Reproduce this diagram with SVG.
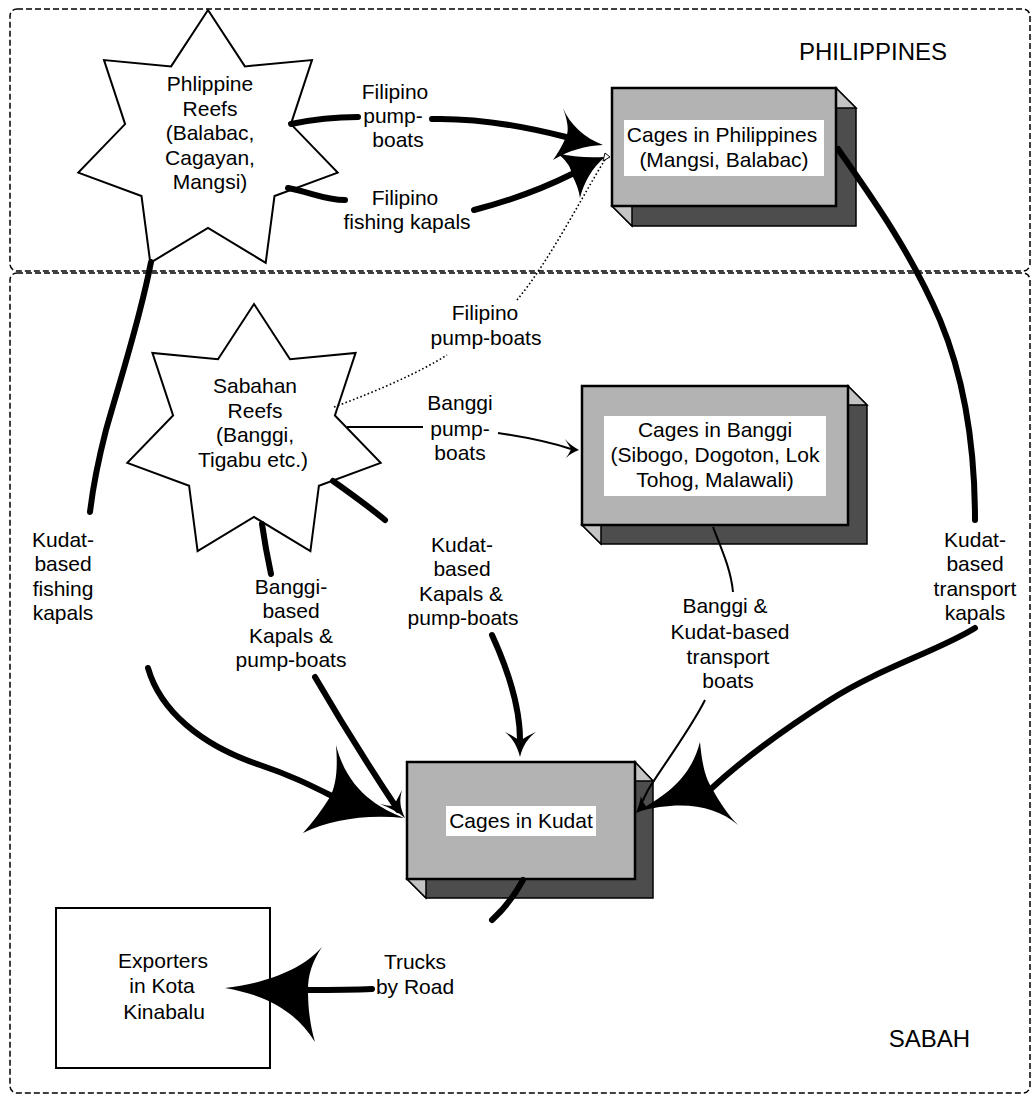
<svg xmlns="http://www.w3.org/2000/svg" width="1032" height="1096" viewBox="0 0 1032 1096">
<style>
.lbl{font-family:"Liberation Sans",Arial,sans-serif;font-size:21px;text-anchor:middle;fill:#000}
.big{font-family:"Liberation Sans",Arial,sans-serif;font-size:24px;fill:#000}
.region{fill:none;stroke:#000;stroke-width:1.5;stroke-dasharray:6 3}
.star{fill:#fff;stroke:#000;stroke-width:2}
.front{fill:#b3b3b3;stroke:#000;stroke-width:2.5}
.side{fill:#4d4d4d;stroke:#000;stroke-width:1.5}
.bevel{fill:#c4c4c4;stroke:#000;stroke-width:1.5}
.tbox{fill:#fff}
.thick{fill:none;stroke:#000;stroke-width:6;stroke-linecap:round}
.thin{fill:none;stroke:#000;stroke-width:2}
.dot{fill:none;stroke:#000;stroke-width:1.6;stroke-dasharray:1.6 2.4}
.head{fill:#000}
.plain{fill:#fff;stroke:#000;stroke-width:2}
</style>
<g id="regions">
<rect x="10" y="9" width="1020" height="262" rx="7" class="region"/>
<rect x="10" y="273" width="1020" height="820" rx="7" class="region"/>
<text class="big" x="947" y="60" text-anchor="end">PHILIPPINES</text>
<text class="big" x="970" y="1047" text-anchor="end">SABAH</text>
</g>
<g id="phil-reefs">
<polygon class="star" points="208,10 244.9,66.4 312,60.1 290.9,124.1 337.7,172.6 274.5,196 265.7,262.8 208,228 150.3,262.8 141.5,196 78.3,172.6 125.1,124.1 104,60.1 171.1,66.4"/>
<text class="lbl" x="210" y="91">Phlippine</text>
<text class="lbl" x="210" y="115.5">Reefs</text>
<text class="lbl" x="210" y="140">(Balabac,</text>
<text class="lbl" x="210" y="164.5">Cagayan,</text>
<text class="lbl" x="210" y="189">Mangsi)</text>
</g>
<g id="sabah-reefs">
<polygon class="star" points="254,304 290,359.2 355.6,352.9 334.9,415.5 380.7,462.9 318.9,485.8 310.4,551.1 254,517 197.6,551.1 189.1,485.8 127.3,462.9 173.1,415.5 152.4,352.9 218,359.2"/>
<text class="lbl" x="255" y="393">Sabahan</text>
<text class="lbl" x="255" y="417.5">Reefs</text>
<text class="lbl" x="255" y="442">(Banggi,</text>
<text class="lbl" x="253" y="466.5">Tigabu etc.)</text>
</g>
<g id="cages-phil">
<polygon class="side" points="836,88 856,108 856,226 632,226 612,206"/>
<polygon class="bevel" points="836,88 856,108 836,108"/>
<polygon class="bevel" points="612,206 632,226 632,206"/>
<rect class="front" x="612" y="88" width="224" height="118"/>
<rect class="tbox" x="624" y="120" width="200" height="56"/>
<text class="lbl" x="722" y="142">Cages in Philippines</text>
<text class="lbl" x="724" y="167">(Mangsi, Balabac)</text>
</g>
<g id="cages-banggi">
<polygon class="side" points="848,386 867,405 867,544 601,544 582,525"/>
<polygon class="bevel" points="848,386 867,405 848,405"/>
<polygon class="bevel" points="582,525 601,544 601,525"/>
<rect class="front" x="582" y="386" width="266" height="139"/>
<rect class="tbox" x="604" y="416" width="222" height="80"/>
<text class="lbl" x="715" y="437">Cages in Banggi</text>
<text class="lbl" x="715" y="462">(Sibogo, Dogoton, Lok</text>
<text class="lbl" x="715" y="487">Tohog, Malawali)</text>
</g>
<g id="cages-kudat">
<polygon class="side" points="635,762 653,781 653,898 426,898 407,879"/>
<polygon class="bevel" points="635,762 653,781 635,781"/>
<polygon class="bevel" points="407,879 426,898 426,879"/>
<rect class="front" x="407" y="762" width="228" height="117"/>
<rect class="tbox" x="446" y="806" width="150" height="30"/>
<text class="lbl" x="521" y="828">Cages in Kudat</text>
</g>
<g id="exporters">
<rect class="plain" x="56" y="908" width="214" height="160"/>
<text class="lbl" x="163" y="968">Exporters</text>
<text class="lbl" x="162" y="993">in Kota</text>
<text class="lbl" x="164" y="1019">Kinabalu</text>
</g>
<g id="connectors">
<!-- Filipino pump-boats -->
<path class="thick" d="M291,124 C310,120 335,117 358,117"/>
<path class="thick" d="M432,119 C470,118 515,124 566,137"/>
<path class="head" d="M603,145 C585,138 570,125 563,108 C568,122 569,131 566,137 C562,146 558,153 553,160 C570,150 585,146 603,145 Z"/>
<text class="lbl" x="395" y="99">Filipino</text>
<text class="lbl" x="393" y="123">pump-</text>
<text class="lbl" x="398" y="147">boats</text>
<!-- Filipino fishing kapals -->
<path class="thick" d="M288,188 C310,192 325,200 345,200"/>
<path class="thick" d="M474,210 C505,202 540,190 572,174"/>
<path class="head" d="M605,157 C588,158 572,157 557,153 C566,160 571,167 572,175 C576,183 579,190 580,198 C584,182 592,168 605,157 Z"/>
<text class="lbl" x="405" y="205">Filipino</text>
<text class="lbl" x="407" y="229">fishing kapals</text>
<!-- Filipino pump-boats (dotted) -->
<path class="dot" d="M334,407 C380,390 420,372 447,355"/>
<path class="dot" d="M517,300 C550,260 580,200 606,158"/>
<path d="M610,157 L603,161 L605,153 Z" fill="#fff" stroke="#000" stroke-width="1"/>
<text class="lbl" x="485" y="320">Filipino</text>
<text class="lbl" x="486" y="345">pump-boats</text>
<!-- Banggi pump-boats -->
<path class="thin" d="M347,427 L423,427"/>
<path class="thin" d="M498,433 C525,437 550,442 571,449"/>
<path class="head" d="M579,450 C574,447 569,444 565,439 C568,444 570,447 571,449 C570,452 568,455 566,458 C570,454 574,452 579,450 Z"/>
<text class="lbl" x="460" y="410">Banggi</text>
<text class="lbl" x="460" y="436">pump-</text>
<text class="lbl" x="460" y="460">boats</text>
<!-- Kudat-based fishing kapals -->
<path class="thick" d="M151,262 C140,320 120,380 106,430 C97,465 92,495 90,512"/>
<path class="thick" d="M148,668 C160,710 200,745 260,765 C290,775 310,785 332,796"/>
<path class="head" d="M404,818 C380,808 348,792 336,745 C338,770 336,785 330,797 C322,810 313,822 303,833 C330,820 365,814 404,818 Z"/>
<text class="lbl" x="63" y="547">Kudat-</text>
<text class="lbl" x="63" y="571">based</text>
<text class="lbl" x="63" y="596">fishing</text>
<text class="lbl" x="63" y="620">kapals</text>
<!-- Banggi-based Kapals & pump-boats -->
<path class="thick" d="M262,524 C265,545 268,560 271,574"/>
<path class="thick" d="M315,677 C340,720 370,768 398,810"/>
<path class="head" d="M405,818 C400,808 399,800 402,790 C398,798 395,803 393,806 C389,806 385,805 380,804 C390,808 398,812 405,818 Z"/>
<text class="lbl" x="291" y="594">Banggi-</text>
<text class="lbl" x="291" y="618">based</text>
<text class="lbl" x="291" y="643">Kapals &amp;</text>
<text class="lbl" x="291" y="667">pump-boats</text>
<!-- Kudat-based Kapals & pump-boats -->
<path class="thick" d="M333,481 C350,493 368,506 385,520"/>
<path class="thick" d="M492,635 C508,670 520,705 520,740"/>
<path class="head" d="M520,757 C517,745 512,738 505,732 C511,735 516,738 520,741 C524,738 529,735 536,732 C528,738 523,745 520,757 Z"/>
<text class="lbl" x="462" y="552">Kudat-</text>
<text class="lbl" x="462" y="576">based</text>
<text class="lbl" x="461" y="601">Kapals &amp;</text>
<text class="lbl" x="463" y="625">pump-boats</text>
<!-- Banggi & Kudat-based transport boats -->
<path class="thin" d="M713,527 C722,550 731,570 733,592"/>
<path class="thin" d="M705,700 C690,730 660,770 648,790 C643,800 640,806 638,811"/>
<path class="head" d="M636,813 C638,808 640,802 641,796 C642,801 644,804 648,808 C644,810 640,811 636,813 Z"/>
<text class="lbl" x="725" y="613">Banggi &amp;</text>
<text class="lbl" x="730" y="639">Kudat-based</text>
<text class="lbl" x="728" y="664">transport</text>
<text class="lbl" x="728" y="688">boats</text>
<!-- Kudat-based transport kapals -->
<path class="thick" d="M838,149 C870,195 910,250 940,320 C965,380 975,450 975,520"/>
<path class="thick" d="M975,628 C940,650 880,668 830,700 C780,732 740,762 712,788"/>
<path class="head" d="M637,812 C665,795 690,780 700,742 C702,765 706,780 712,788 C718,800 728,815 738,825 C715,805 680,800 637,812 Z"/>
<text class="lbl" x="975" y="547">Kudat-</text>
<text class="lbl" x="975" y="571">based</text>
<text class="lbl" x="975" y="596">transport</text>
<text class="lbl" x="975" y="620">kapals</text>
<!-- Trucks by Road -->
<path class="thick" d="M523,880 C515,895 505,908 492,920"/>
<path class="thick" d="M372,989 C350,990 330,990 306,990"/>
<path class="head" d="M225,988 C260,984 300,972 322,947 C312,962 308,975 308,990 C308,1008 310,1025 315,1042 C295,1010 265,995 225,988 Z"/>
<text class="lbl" x="415" y="969">Trucks</text>
<text class="lbl" x="415" y="994">by Road</text>
</g>
</svg>
